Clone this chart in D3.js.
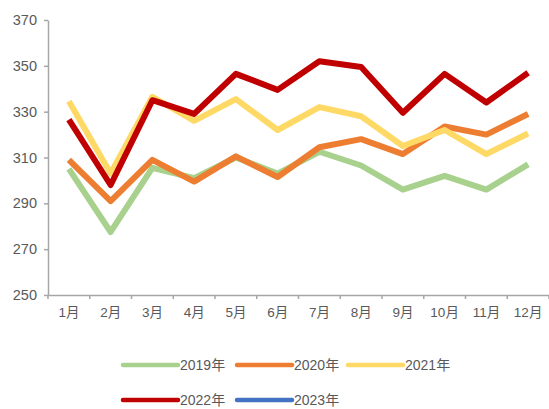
<!DOCTYPE html>
<html>
<head>
<meta charset="utf-8">
<script src="https://cdn.jsdelivr.net/npm/d3@7"></script>
<style>
  body { margin: 0; background: #fff; }
  svg text { font-family: "Liberation Sans", Arial, "Noto Sans CJK SC", sans-serif; fill: #595959; }
</style>
</head>
<body>
<svg id="chart" width="549" height="409"></svg>
<script>
const months = ["1月", "2月", "3月", "4月", "5月", "6月", "7月", "8月", "9月", "10月", "11月", "12月"];
const yTicks = [250, 270, 290, 310, 330, 350, 370];

const values2019 = [305, 277.5, 305.5, 301, 310, 303, 312.5, 306.5, 296, 302, 296, 307];
const values2020 = [309, 291, 309, 299.5, 310.5, 301.5, 314.5, 318, 311.5, 323.5, 320, 329];
const values2021 = [334.5, 303, 336.5, 326, 335.5, 322, 332, 328, 315, 322, 311.5, 320.5];
const values2022 = [326.5, 298, 335, 329, 346.5, 339.5, 352, 349.5, 329.5, 346.5, 334, 347];
const values2023 = [];

const series = [
    { name: "2019年", color: "#A9D18E", values: values2019 },
    { name: "2020年", color: "#ED7D31", values: values2020 },
    { name: "2021年", color: "#FFD966", values: values2021 },
    { name: "2022年", color: "#C00000", values: values2022 },
    { name: "2023年", color: "#4472C4", values: values2023 }
];

const svg = d3.select("#chart");

const x = d3.scaleBand().domain(months).range([48, 549]);
const y = d3.scaleLinear().domain([250, 370]).range([295, 20]);

// y axis
const yAxis = svg.append("g")
    .attr("transform", "translate(48,0)")
    .call(d3.axisLeft(y).tickValues(yTicks).tickSize(4).tickPadding(7).tickSizeOuter(0));
yAxis.selectAll("text").attr("font-size", 14.5).style("fill", "#595959");

// x axis
const xAxis = svg.append("g")
    .attr("transform", "translate(0,295)")
    .call(d3.axisBottom(x).tickSize(0).tickPadding(12).tickSizeOuter(0));
xAxis.selectAll("text").attr("font-size", 13.5).style("fill", "#595959");

// ticks between categories
xAxis.selectAll(".sep")
    .data(months.map(m => x(m)).concat([x.range()[1]]))
    .join("line")
    .attr("class", "sep")
    .attr("x1", d => d).attr("x2", d => d)
    .attr("y1", 0).attr("y2", 4);

svg.selectAll(".domain, .tick line, .sep")
    .attr("stroke", "#A6A6A6")
    .attr("stroke-width", 1.5);

const line = d3.line()
    .x((d, i) => x(months[i]) + x.bandwidth() / 2)
    .y(d => y(d));

svg.append("g").selectAll("path")
    .data(series.filter(s => s.values.length))
    .join("path")
    .attr("d", s => line(s.values))
    .attr("fill", "none")
    .attr("stroke", s => s.color)
    .attr("stroke-width", 6)
    .attr("stroke-linejoin", "round");

// legend
const legendPos = [[123, 365], [237, 365], [348, 365], [123, 400], [237, 400]];
const legend = svg.append("g").selectAll("g")
    .data(series)
    .join("g")
    .attr("transform", (d, i) => `translate(${legendPos[i][0]},${legendPos[i][1]})`);

legend.append("line")
    .attr("x1", 0).attr("x2", 55)
    .attr("stroke", d => d.color)
    .attr("stroke-width", 4.5)
    .attr("stroke-linecap", "round");

legend.append("text")
    .attr("x", 57)
    .attr("dy", "0.35em")
    .attr("font-size", 14)
    .text(d => d.name);
</script>
</body>
</html>
